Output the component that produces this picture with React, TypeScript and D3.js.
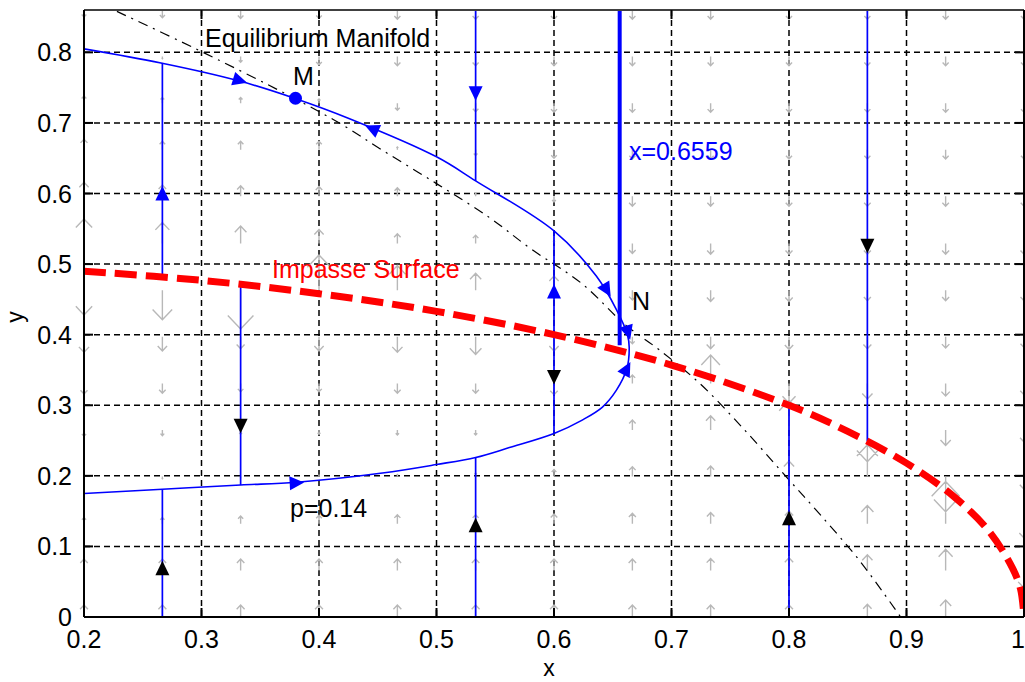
import React from 'react';
import * as d3 from 'd3';

const W = 1025;
const H = 682;

// Axis ticks
const X_TICKS = [0.2, 0.3, 0.4, 0.5, 0.6, 0.7, 0.8, 0.9, 1.0];
const X_TICK_LABELS = ['0.2', '0.3', '0.4', '0.5', '0.6', '0.7', '0.8', '0.9', '1'];
const Y_TICKS = [0, 0.1, 0.2, 0.3, 0.4, 0.5, 0.6, 0.7, 0.8];
const Y_TICK_LABELS = ['0', '0.1', '0.2', '0.3', '0.4', '0.5', '0.6', '0.7', '0.8'];

// Equilibrium manifold (dash-dot)
const EQ_X = [0.228, 0.2927, 0.3777, 0.4202, 0.4543, 0.5, 0.545, 0.58, 0.624, 0.66, 0.69, 0.724, 0.76, 0.798, 0.826, 0.86, 0.895];
const EQ_Y = [0.858, 0.807, 0.736, 0.697, 0.661, 0.614, 0.566, 0.522, 0.472, 0.415, 0.378, 0.331, 0.269, 0.198, 0.146, 0.08, 0.0];

// Impasse surface (thick red dashed)
const IMP_X = [0.2, 0.3, 0.4, 0.5, 0.6, 0.7, 0.8, 0.85, 0.9, 0.94, 0.97, 0.99, 0.997, 1.0];
const IMP_Y = [0.49, 0.477, 0.458, 0.433, 0.4, 0.357, 0.3, 0.263, 0.218, 0.171, 0.122, 0.07, 0.04, 0.0];

// Slow trajectory for p = 0.14 (upper branch, fold at N, lower branch)
const TRAJ_X = [0.2, 0.2655, 0.331, 0.379, 0.426, 0.5, 0.5333, 0.6, 0.636, 0.653, 0.6625, 0.664,
  0.662, 0.653, 0.641, 0.624, 0.6, 0.562, 0.5333, 0.5, 0.454, 0.381, 0.3333, 0.2667, 0.2];
const TRAJ_Y = [0.805, 0.785, 0.76, 0.735, 0.706, 0.652, 0.618, 0.547, 0.483, 0.436, 0.4, 0.382,
  0.352, 0.321, 0.297, 0.279, 0.26, 0.24, 0.226, 0.216, 0.204, 0.191, 0.187, 0.181, 0.175];

// Fast (vertical) trajectories: x, start y, end y
const FAST_X = [0.2667, 0.2667, 0.3333, 0.5333, 0.5333, 0.6, 0.8, 0.8667];
const FAST_Y0 = [0, 0.482, 0.471, 0.86, 0, 0.547, 0, 0.86];
const FAST_Y1 = [0.181, 0.785, 0.187, 0.618, 0.226, 0.26, 0.3, 0.249];

// Singular line x = 0.6559
const CRIT_X = 0.6559;
const CRIT_Y0 = 0.86;
const CRIT_Y1 = 0.385;

// Point M on the upper branch
const M_X = 0.38;
const M_Y = 0.735;

// Direction markers: position, flow direction (data units), colour
const MARK_X = [0.2667, 0.2667, 0.3333, 0.5333, 0.5333, 0.6, 0.6, 0.8, 0.8667, 0.3327, 0.445, 0.645, 0.663, 0.662, 0.381];
const MARK_Y = [0.6, 0.069, 0.271, 0.742, 0.13, 0.461, 0.34, 0.14, 0.526, 0.76, 0.692, 0.463, 0.403, 0.352, 0.19];
const MARK_DX = [0, 0, 0, 0, 0, 0, 0, 0, 0, 1, -1, 1, 0.18, 0.32, 1];
const MARK_DY = [1, 1, -1, -1, 1, 1, -1, 1, -1, -0.494, 0.75, -2.76, -1, 1, 0.1];
const MARK_COLOR = ['#0000ff', '#000000', '#000000', '#0000ff', '#000000', '#0000ff', '#000000', '#000000', '#000000',
  '#0000ff', '#0000ff', '#0000ff', '#0000ff', '#0000ff', '#0000ff'];

// Direction field (vertical components) on a grid
const QUIVER_X = [0.2, 0.2667, 0.3333, 0.4, 0.4667, 0.5333, 0.6, 0.6667, 0.7333, 0.8, 0.8667, 0.9333, 1.0];
const QUIVER_Y = [0, 0.066, 0.132, 0.199, 0.265, 0.331, 0.397, 0.463, 0.529, 0.596, 0.662, 0.728, 0.794, 0.86];
const QUIVER_DY = [
  [0.017, 0.017, 0.017, 0.017, 0.017, 0.017, 0.017, 0.017, 0.017, 0.017, 0.018, 0.024, 0],
  [0.016, 0.016, 0.016, 0.016, 0.016, 0.016, 0.016, 0.016, 0.017, 0.018, 0.022, 0.03, -0.025],
  [0.009, 0.009, 0.011, 0.012, 0.013, 0.013, 0.014, 0.015, 0.016, 0.018, 0.026, 0.06, -0.02],
  [-0.003, -0.003, -0.002, 0.002, 0.003, 0.005, 0.01, 0.014, 0.015, 0.022, 0.045, -0.05, -0.018],
  [-0.009, -0.008, -0.006, -0.006, -0.007, -0.007, -0.001, 0.014, 0.02, 0.042, -0.045, -0.022, -0.017],
  [-0.015, -0.014, -0.012, -0.012, -0.014, -0.014, -0.016, 0.012, 0.04, -0.028, -0.022, -0.018, -0.016],
  [-0.022, -0.02, -0.017, -0.02, -0.022, -0.025, -0.02, -0.01, -0.017, -0.018, -0.017, -0.016, -0.015],
  [-0.035, -0.042, -0.055, 0.05, 0.035, 0.024, 0.02, -0.014, -0.016, -0.016, -0.015, -0.015, -0.015],
  [0.035, 0.03, 0.025, 0.02, 0.014, 0.012, 0.004, -0.014, -0.015, -0.015, -0.015, -0.015, -0.015],
  [0.02, 0.016, 0.015, 0.014, 0.012, 0.004, -0.008, -0.014, -0.014, -0.014, -0.014, -0.014, -0.014],
  [0.015, 0.012, 0.012, 0.012, 0.004, -0.008, -0.012, -0.013, -0.013, -0.013, -0.013, -0.013, -0.013],
  [0.01, 0.008, 0.008, 0.006, -0.01, -0.012, -0.013, -0.013, -0.013, -0.013, -0.013, -0.013, -0.013],
  [0.003, -0.003, -0.008, -0.012, -0.013, -0.013, -0.013, -0.013, -0.013, -0.013, -0.013, -0.013, -0.013],
  [-0.01, -0.011, -0.012, -0.012, -0.013, -0.013, -0.013, -0.013, -0.013, -0.013, -0.013, -0.013, -0.013],
];

const FONT = '"Liberation Sans", Arial, Helvetica, sans-serif';

export default function App() {
  const left = 84, right = 1024, top = 10, bottom = 617;
  const sx = d3.scaleLinear().domain([0.2, 1.0]).range([left, right]);
  const sy = d3.scaleLinear().domain([0, 0.86]).range([bottom, top]);

  const curve = (xs: number[], ys: number[]) =>
    d3.line<number>()
      .x((_, i) => sx(xs[i]))
      .y((_, i) => sy(ys[i]))
      .curve(d3.curveCatmullRom.alpha(0.5))(xs.map((_, i) => i)) || '';

  // quiver arrows
  const quiver: string[] = [];
  QUIVER_DY.forEach((row, k) => {
    row.forEach((dy, i) => {
      if (dy === 0) return;
      const x0 = sx(QUIVER_X[i]);
      const y0 = sy(QUIVER_Y[k]);
      const y1 = sy(QUIVER_Y[k] + dy);
      const L = y1 - y0; // signed pixel length
      const back = y1 - 0.35 * L;
      const half = 0.33 * Math.abs(L);
      quiver.push(`M${x0},${y0}L${x0},${y1}M${x0 - half},${back}L${x0},${y1}L${x0 + half},${back}`);
    });
  });

  const markers = MARK_X.map((mx, i) => {
    const px = sx(mx), py = sy(MARK_Y[i]);
    const vx = sx(mx + MARK_DX[i] * 0.01) - px;
    const vy = sy(MARK_Y[i] + MARK_DY[i] * 0.01) - py;
    const ang = (Math.atan2(vy, vx) * 180) / Math.PI;
    return { px, py, ang, color: MARK_COLOR[i] };
  });

  return (
    <div style={{ position: 'absolute', left: 0, top: 0 }}>
      <svg width={W} height={H} style={{ display: 'block', background: '#fff' }} fontFamily={FONT}>
        <rect x={0} y={0} width={W} height={H} fill="#fff" />
        <defs>
          <clipPath id="plotArea">
            <rect x={left} y={top} width={right - left} height={bottom - top} />
          </clipPath>
        </defs>

        {/* grid */}
        <g stroke="#000" strokeWidth={1.5} strokeDasharray="6,4">
          {X_TICKS.slice(1, -1).map((t) => (
            <line key={'gx' + t} x1={sx(t)} x2={sx(t)} y1={top} y2={bottom} />
          ))}
          {Y_TICKS.slice(1).map((t) => (
            <line key={'gy' + t} x1={left} x2={right} y1={sy(t)} y2={sy(t)} />
          ))}
        </g>

        {/* direction field */}
        <path d={quiver.join('')} fill="none" stroke="#b8b8b8" strokeWidth={1.4} />

        <g clipPath="url(#plotArea)">
          {/* equilibrium manifold */}
          <path d={curve(EQ_X, EQ_Y)} fill="none" stroke="#000" strokeWidth={1.2} strokeDasharray="10,6,2,6" />

          {/* fast trajectories */}
          {FAST_X.map((fx, i) => (
            <line key={'f' + i} x1={sx(fx)} x2={sx(fx)} y1={sy(FAST_Y0[i])} y2={sy(FAST_Y1[i])} stroke="#0000ff" strokeWidth={1.7} />
          ))}

          {/* slow trajectory */}
          <path d={curve(TRAJ_X, TRAJ_Y)} fill="none" stroke="#0000ff" strokeWidth={1.6} />

          {/* x = 0.6559 */}
          <line x1={sx(CRIT_X)} x2={sx(CRIT_X)} y1={sy(CRIT_Y0)} y2={sy(CRIT_Y1)} stroke="#0000ff" strokeWidth={4} />

          {/* impasse surface */}
          <path d={curve(IMP_X, IMP_Y)} fill="none" stroke="#ff0000" strokeWidth={7} strokeDasharray="22,9" />
        </g>

        {/* direction markers */}
        {markers.map((m, i) => (
          <path key={'m' + i} d="M7.5,0L-7,-7L-7,7Z" fill={m.color}
            transform={`translate(${m.px},${m.py}) rotate(${m.ang})`} />
        ))}

        {/* point M */}
        <circle cx={sx(M_X)} cy={sy(M_Y)} r={6.5} fill="#0000ff" />

        {/* axes box */}
        <g stroke="#000" strokeWidth={2} fill="none">
          <line x1={left} x2={right} y1={bottom} y2={bottom} />
          <line x1={left} x2={left} y1={top} y2={bottom} />
          <line x1={right} x2={right} y1={top} y2={bottom} />
        </g>
        <line x1={left} x2={right} y1={top} y2={top} stroke="#404040" strokeWidth={2} />
        <g stroke="#000" strokeWidth={2}>
          {X_TICKS.map((t) => (
            <g key={'tx' + t}>
              <line x1={sx(t)} x2={sx(t)} y1={bottom} y2={bottom - 9} />
              <line x1={sx(t)} x2={sx(t)} y1={top} y2={top + 9} />
            </g>
          ))}
          {Y_TICKS.map((t) => (
            <g key={'ty' + t}>
              <line x1={left} x2={left + 9} y1={sy(t)} y2={sy(t)} />
              <line x1={right} x2={right - 9} y1={sy(t)} y2={sy(t)} />
            </g>
          ))}
        </g>

        {/* tick labels */}
        <g fontSize={25} fill="#000">
          {X_TICKS.map((t, i) => (
            <text key={'lx' + t} x={i === X_TICKS.length - 1 ? sx(t) - 6 : sx(t)} y={648} textAnchor="middle">{X_TICK_LABELS[i]}</text>
          ))}
          {Y_TICKS.map((t, i) => (
            <text key={'ly' + t} x={72} y={sy(t) + 9} textAnchor="end">{Y_TICK_LABELS[i]}</text>
          ))}
        </g>

        {/* axis labels */}
        <text x={549} y={676} fontSize={23} textAnchor="middle" fill="#000">x</text>
        <text transform="translate(23,317) rotate(-90)" fontSize={23} textAnchor="middle" fill="#000">y</text>

        {/* annotations */}
        <text x={205} y={47} fontSize={25} fill="#000">Equilibrium Manifold</text>
        <text x={293} y={85} fontSize={25} fill="#000">M</text>
        <text x={629} y={160} fontSize={25} fill="#0000ff">x=0.6559</text>
        <text x={272} y={278} fontSize={25} fill="#ff0000">Impasse Surface</text>
        <text x={632} y={310} fontSize={25} fill="#000">N</text>
        <text x={290} y={517} fontSize={25} fill="#000">p=0.14</text>
      </svg>
    </div>
  );
}
